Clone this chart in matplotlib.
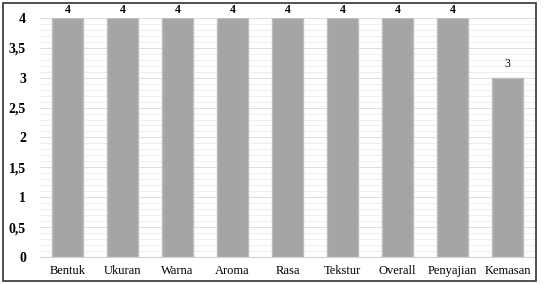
import matplotlib.pyplot as plt
from matplotlib.patches import Rectangle
import numpy as np

categories = ["Bentuk", "Ukuran", "Warna", "Aroma", "Rasa", "Tekstur",
              "Overall", "Penyajian", "Kemasan"]
values = [4, 4, 4, 4, 4, 4, 4, 4, 3]
yticks = [0, 0.5, 1, 1.5, 2, 2.5, 3, 3.5, 4]
ytick_labels = ["0", "0,5", "1", "1,5", "2", "2,5", "3", "3,5", "4"]

plt.rcParams["font.family"] = ["Liberation Serif", "DejaVu Serif"]

fig = plt.figure(figsize=(5.55, 2.84), dpi=100)
ax = fig.add_axes([0.072, 0.095, 0.892, 0.842])

# faint minor gridlines like the Excel pattern
for y in np.arange(0.1, 4.01, 0.1):
    ax.axhline(y, color="#ededed", lw=0.6, zorder=0)
for y in yticks[1:]:
    ax.axhline(y, color="#dedede", lw=0.7, zorder=0)

x = np.arange(len(categories))
ax.bar(x, values, width=0.58, color="#a5a5a5", edgecolor="#bdbdbd",
       linewidth=1.0, zorder=2)

for xi, v in zip(x, values):
    ax.text(xi, v + (0.04 if v == 4 else 0.13), str(v), ha="center",
            va="bottom", fontsize=8.5,
            fontweight="bold" if v == 4 else "normal")

ax.set_xlim(-0.5, len(categories) - 0.5)
ax.set_ylim(0, 4)
ax.set_yticks(yticks)
ax.set_yticklabels(ytick_labels, fontsize=10, fontweight="bold")
ax.set_xticks(x)
ax.set_xticklabels(categories, fontsize=9)
ax.tick_params(axis="y", length=0, pad=10)
ax.tick_params(axis="x", length=0, pad=6)

for side in ["top", "right", "left"]:
    ax.spines[side].set_visible(False)
ax.spines["bottom"].set_color("#d0d0d0")
ax.spines["bottom"].set_linewidth(0.8)

# outer chart border
fig.patches.append(Rectangle((3 / 555, 3 / 284), 533 / 555, 278 / 284,
                             transform=fig.transFigure, fill=False,
                             edgecolor="#333333", linewidth=1.2))

fig.savefig("out.png", dpi=100)
